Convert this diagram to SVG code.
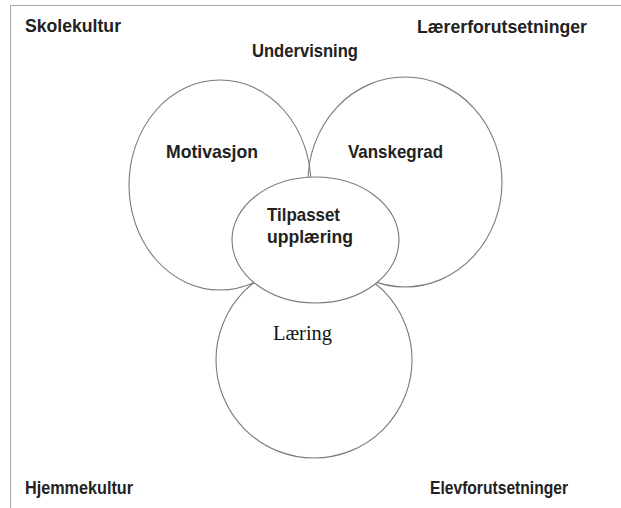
<svg xmlns="http://www.w3.org/2000/svg" width="621" height="508" viewBox="0 0 621 508">
<style>
.frame{stroke:#a8a8a8;stroke-width:1;fill:none}
.ring{stroke:#7a7a7a;stroke-width:1.1;fill:none}
.core{stroke:#7a7a7a;stroke-width:1.1;fill:#ffffff}
.lbl{font-family:"Liberation Sans",Arial,sans-serif;font-size:19px;font-weight:bold;fill:#222222}
.ser{font-family:"Liberation Serif","Times New Roman",serif;font-size:20px;fill:#151515}
</style>
<rect width="621" height="508" fill="#ffffff"/>
<g id="frame">
<line class="frame" x1="10.5" y1="5.5" x2="621" y2="5.5"/>
<line class="frame" x1="10.5" y1="5.5" x2="10.5" y2="508"/>
</g>
<g id="corner-labels">
<text class="lbl" x="25" y="32" textLength="96" lengthAdjust="spacingAndGlyphs">Skolekultur</text>
<text class="lbl" x="417" y="33" textLength="170" lengthAdjust="spacingAndGlyphs">Lærerforutsetninger</text>
<text class="lbl" x="25" y="494" textLength="108" lengthAdjust="spacingAndGlyphs">Hjemmekultur</text>
<text class="lbl" x="430" y="494" textLength="138" lengthAdjust="spacingAndGlyphs">Elevforutsetninger</text>
<text class="lbl" x="252" y="57" textLength="106" lengthAdjust="spacingAndGlyphs">Undervisning</text>
</g>
<g id="connectors"></g>
<g id="motivasjon">
<ellipse class="ring" cx="220" cy="185" rx="91" ry="105"/>
<text class="lbl" x="166" y="158" font-size="18" textLength="92" lengthAdjust="spacingAndGlyphs">Motivasjon</text>
</g>
<g id="vanskegrad">
<ellipse class="ring" cx="405" cy="182" rx="97" ry="105"/>
<text class="lbl" x="348" y="158" font-size="18" textLength="95" lengthAdjust="spacingAndGlyphs">Vanskegrad</text>
</g>
<g id="laering">
<circle class="ring" cx="314" cy="360" r="98"/>
<text class="ser" x="273" y="340" textLength="59" lengthAdjust="spacingAndGlyphs">Læring</text>
</g>
<g id="tilpasset">
<ellipse class="core" cx="315.5" cy="240" rx="83.5" ry="63"/>
<text class="lbl" x="267" y="221" textLength="73" lengthAdjust="spacingAndGlyphs">Tilpasset</text>
<text class="lbl" x="267" y="243" textLength="86" lengthAdjust="spacingAndGlyphs">upplæring</text>
</g>
</svg>
